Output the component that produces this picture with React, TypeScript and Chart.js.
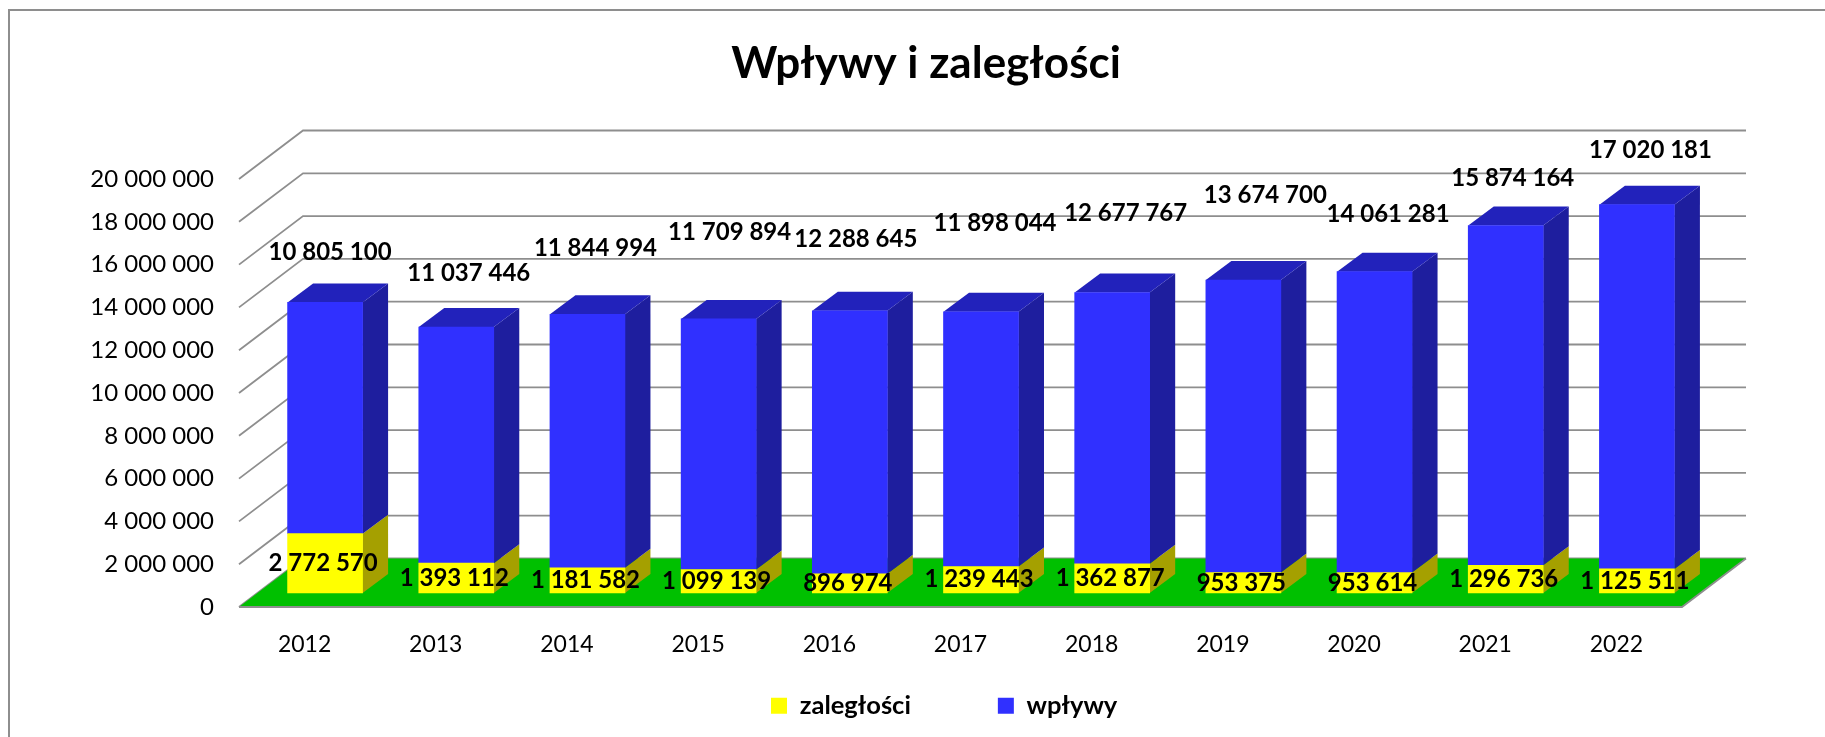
import React, { useEffect, useRef } from "react";
import { Chart, registerables } from "chart.js";

Chart.register(...registerables);

const years = ["2012", "2013", "2014", "2015", "2016", "2017", "2018", "2019", "2020", "2021", "2022"];
const zaleglosci = [2772570, 1393112, 1181582, 1099139, 896974, 1239443, 1362877, 953375, 953614, 1296736, 1125511];
const wplywy = [10805100, 11037446, 11844994, 11709894, 12288645, 11898044, 12677767, 13674700, 14061281, 15874164, 17020181];

// Label placement in the reference is uneven, as in the spreadsheet it came from.
const blueLabelDx = [5, 12.5, 8, 11, 6, 14, 13.5, 22, 13.5, 7, 13.5];
const blueLabelDy = [50, 54, 66, 87, 72, 88.5, 79.5, 84.5, 57, 47, 54];

const FONT = "Lato, 'Open Sans', sans-serif";
const GRID = "#8e8e8e";
const WALL_DX = 64;
const WALL_DY = 48.5;
const BAR_DX = 20.5;
const BAR_DY = 14;
const BAR_DEPTH_DX = 25.5;
const BAR_DEPTH_DY = 19;
const LEGEND_GAP = 87;

const fmt = (v: number) => String(v).replace(/\B(?=(\d{3})+(?!\d))/g, " ");

const scene3d = {
  id: "scene3d",
  beforeLayout(chart: any) {
    const legend = chart.legend;
    const baseFit = Object.getPrototypeOf(legend).fit;
    legend.fit = function () { baseFit.call(this); this.height = 40; };
  },
  afterLayout(chart: any) {
    const t = chart.titleBlock;
    if (t) { t.left += 85; t.right += 85; t.top = 37; t.bottom = t.top + t.height; }
    const l = chart.legend;
    if (l) { l.left = 771 - LEGEND_GAP; l.right = 1825; l.top = 693 - LEGEND_GAP; l.bottom = 737; }
  },
  beforeDraw(chart: any) {
    const { ctx, chartArea: a, scales } = chart;
    ctx.save();
    ctx.strokeStyle = GRID;
    ctx.lineWidth = 2;
    ctx.beginPath();
    ctx.moveTo(9, 737);
    ctx.lineTo(9, 10);
    ctx.lineTo(1825, 10);
    ctx.stroke();

    ctx.lineWidth = 1.8;
    const y = scales.y;
    y.ticks.forEach((tick: any, i: number) => {
      const py = y.getPixelForTick(i);
      ctx.beginPath();
      ctx.moveTo(a.left, py);
      ctx.lineTo(a.left + WALL_DX, py - WALL_DY);
      ctx.lineTo(a.right + WALL_DX, py - WALL_DY);
      ctx.stroke();
    });

    // floor
    const y0 = y.getPixelForValue(0);
    ctx.fillStyle = "#00c000";
    ctx.beginPath();
    ctx.moveTo(a.left, y0);
    ctx.lineTo(a.left + WALL_DX, y0 - WALL_DY);
    ctx.lineTo(a.right + WALL_DX, y0 - WALL_DY);
    ctx.lineTo(a.right, y0);
    ctx.closePath();
    ctx.fill();
    ctx.beginPath();
    ctx.moveTo(a.left, y0);
    ctx.lineTo(a.right, y0);
    ctx.lineTo(a.right + WALL_DX, y0 - WALL_DY);
    ctx.stroke();
    ctx.restore();
  },
  beforeDatasetsDraw(chart: any) {
    const { ctx } = chart;
    ctx.save();
    ctx.translate(BAR_DX, -BAR_DY);
    const faces = [
      { side: "#a5a000", top: "#a5a000" },
      { side: "#1e1e9e", top: "#2222bb" },
    ];
    chart.data.datasets.forEach((_: any, di: number) => {
      chart.getDatasetMeta(di).data.forEach((el: any) => {
        const p = el.getProps(["x", "y", "base", "width"], true);
        const r = p.x + p.width / 2;
        const l = p.x - p.width / 2;
        ctx.fillStyle = faces[di].side;
        ctx.beginPath();
        ctx.moveTo(r, p.y);
        ctx.lineTo(r + BAR_DEPTH_DX, p.y - BAR_DEPTH_DY);
        ctx.lineTo(r + BAR_DEPTH_DX, p.base - BAR_DEPTH_DY);
        ctx.lineTo(r, p.base);
        ctx.closePath();
        ctx.fill();
        if (di === 1) {
          ctx.fillStyle = faces[di].top;
          ctx.beginPath();
          ctx.moveTo(l, p.y);
          ctx.lineTo(l + BAR_DEPTH_DX, p.y - BAR_DEPTH_DY);
          ctx.lineTo(r + BAR_DEPTH_DX, p.y - BAR_DEPTH_DY);
          ctx.lineTo(r, p.y);
          ctx.closePath();
          ctx.fill();
        }
      });
    });
    // stays translated while the library draws the bars; restored below
  },
  afterDatasetsDraw(chart: any) {
    const { ctx } = chart;
    ctx.restore();
    ctx.save();
    ctx.fillStyle = "#000";
    ctx.font = `bold 24px ${FONT}`;
    ctx.textAlign = "center";
    ctx.textBaseline = "middle";
    chart.getDatasetMeta(0).data.forEach((el: any, i: number) => {
      const p = el.getProps(["x", "y", "base"], true);
      ctx.fillText(fmt(zaleglosci[i]), p.x + BAR_DX - 2, (p.y + p.base) / 2 - BAR_DY);
    });
    chart.getDatasetMeta(1).data.forEach((el: any, i: number) => {
      const p = el.getProps(["x", "y"], true);
      ctx.fillText(fmt(wplywy[i]), p.x + BAR_DX + blueLabelDx[i], p.y - BAR_DY - blueLabelDy[i]);
    });
    ctx.restore();
  },
};

export default function App() {
  const ref = useRef<HTMLCanvasElement | null>(null);
  useEffect(() => {
    if (!ref.current) return;
    const chart = new Chart(ref.current, {
      type: "bar",
      data: {
        labels: years,
        datasets: [
          { label: "zaległości", data: zaleglosci, backgroundColor: "#ffff00", barThickness: 75, clip: false },
          { label: "wpływy", data: wplywy, backgroundColor: "#3030ff", barThickness: 75, clip: false },
        ],
      },
      options: {
        responsive: false,
        animation: false,
        layout: { padding: { top: 126.2, left: 0, right: 143, bottom: 0 } },
        plugins: {
          title: {
            display: true,
            text: "Wpływy i zaległości",
            color: "#000",
            font: { family: FONT, size: 44, weight: "bold" },
            padding: 0,
          },
          legend: {
            position: "bottom",
            align: "start",
            labels: {
              color: "#000",
              font: { family: FONT, size: 25.5, weight: "bold" },
              boxWidth: 16,
              boxHeight: 16,
              padding: LEGEND_GAP,
            },
          },
          tooltip: { enabled: false },
        },
        scales: {
          x: {
            stacked: true,
            grid: { display: false },
            border: { display: false },
            ticks: { color: "#000", font: { family: FONT, size: 23 }, padding: 15.5, maxRotation: 0 },
            afterFit(s: any) { s.height = 90; },
          },
          y: {
            stacked: true,
            min: 0,
            max: 20000000,
            grid: { display: false },
            border: { display: false },
            ticks: {
              stepSize: 2000000,
              color: "#000",
              font: { family: FONT, size: 24 },
              padding: 17,
              autoSkip: false,
              callback: (v: any) => fmt(Number(v)),
            },
            afterFit(s: any) { s.width = 239; },
          },
        },
      },
      plugins: [scene3d],
    } as any);
    return () => chart.destroy();
  }, []);
  return (
    <div style={{ position: "absolute", left: 0, top: 0, width: 1825, height: 737, background: "#fff" }}>
      <canvas ref={ref} width={1825} height={737} style={{ display: "block" }} />
    </div>
  );
}
